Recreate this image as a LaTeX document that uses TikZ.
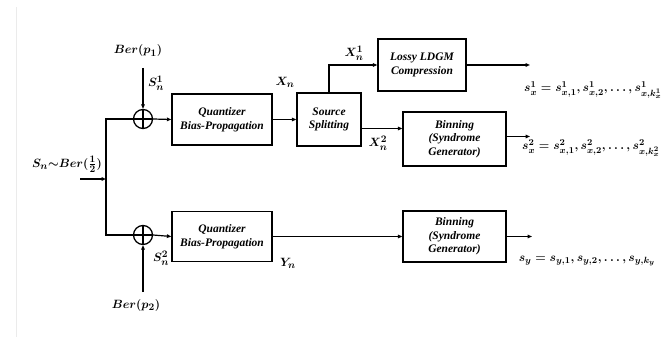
\documentclass[tikz,border=0pt]{standalone}
\usepackage{fontspec}
\setmainfont{Liberation Serif}
\usetikzlibrary{arrows.meta,calc}
\DeclareMathSizes{13}{13}{10}{8}
\DeclareMathSizes{12.2}{12.2}{9.4}{7.5}
\begin{document}
\begin{tikzpicture}[x=1pt,y=-1pt,
  line width=1.2pt,
  arr/.style={-{Triangle[length=4.5pt,width=3.6pt]}},
  blk/.style={draw,line width=1.3pt,align=center,inner sep=1pt,
    font=\fontsize{11.5}{13.5}\selectfont\bfseries\itshape},
  xorc/.style={draw,circle,line width=1.3pt,minimum size=19pt,inner sep=0pt,
    path picture={\draw[line width=1.1pt] (path picture bounding box.north) -- (path picture bounding box.south)
      (path picture bounding box.west) -- (path picture bounding box.east);}},
  lab/.style={inner sep=0pt,font=\fontsize{13}{15}\selectfont\boldmath},
  outlab/.style={inner sep=0pt,font=\fontsize{12.2}{14}\selectfont\boldmath}]
\useasboundingbox (0,0) rectangle (672,339);
\draw[line width=0.6pt,black!8] (16,7) -- (16,337);
% nodes
\node[xorc] (x1) at (143,119) {};
\node[xorc] (x2) at (143,235) {};
\node[blk,minimum width=100pt,minimum height=51pt] (q1) at (222,119.5) {Quantizer\\Bias-Propagation};
\node[blk,minimum width=64pt,minimum height=53pt] (ss) at (329,119.5) {Source\\Splitting};
\node[blk,minimum width=88pt,minimum height=52pt] (ld) at (422,65) {Lossy LDGM\\Compression};
\node[blk,minimum width=103pt,minimum height=54pt] (b1) at (454.5,139) {Binning\\(Syndrome\\Generator)};
\node[blk,minimum width=100pt,minimum height=50pt] (q2) at (222,236.5) {Quantizer\\Bias-Propagation};
\node[blk,minimum width=103pt,minimum height=51pt] (b2) at (454.5,236.5) {Binning\\(Syndrome\\Generator)};
% labels
\node[lab] (ber1) at (138,51) {$Ber(p_1)$};
\node[lab] (ber2) at (136,305) {$Ber(p_2)$};
\node[lab] (s1) at (156,83) {$S_n^1$};
\node[lab] (s2) at (161,258) {$S_n^2$};
\node[lab] (in) at (67,164) {$S_n{\sim}Ber(\frac{1}{2})$};
\node[lab] (xn) at (285,82) {$X_n$};
\node[lab] (xn1) at (354,53) {$X_n^1$};
\node[lab] (xn2) at (378,143) {$X_n^2$};
\node[lab] (yn) at (288,263) {$Y_n$};
\node[outlab] (sx1) at (593,90) {$s_x^1=s_{x,1}^1,s_{x,2}^1,\dots,s_{x,k_x^1}^1$};
\node[outlab] (sx2) at (591,148) {$s_x^2=s_{x,1}^2,s_{x,2}^2,\dots,s_{x,k_x^2}^2$};
\node[outlab] (sy) at (587,261) {$s_y=s_{y,1},s_{y,2},\dots,s_{y,k_y}$};
% coordinates
\coordinate (b1top) at (143,68);
\coordinate (b2bot) at (143,292);
\coordinate (jt) at (106,119);
\coordinate (jb) at (106,235);
\coordinate (inS) at (80,179);
\coordinate (inE) at (106,179);
\coordinate (ssb) at ([yshift=-9pt]ss.east);
\coordinate (o1) at (530,65);
\coordinate (b1o) at ([yshift=2.5pt]b1.east);
\coordinate (o2) at (530,136.5);
\coordinate (o3) at (532,236.5);
% connectors
\draw[arr] (b1top) -- (x1.north);
\draw[arr] (b2bot) -- (x2.south);
\draw (x1.west) -- (jt) -- (jb) -- (x2.west);
\draw[arr] (inS) -- (inE);
\draw[arr] (x1.east) -- (q1.west);
\draw[arr] (x2.east) -- (q2.west);
\draw[arr] (q1.east) -- (ss.west);
\draw[arr] (ss.north) |- (ld.west);
\draw[arr] (ssb) -- (ssb -| b1.west);
\draw[arr] (ld.east) -- (o1);
\draw[arr] (b1o) -- (o2);
\draw[arr] (q2.east) -- (b2.west);
\draw[arr] (b2.east) -- (o3);
\end{tikzpicture}
\end{document}
